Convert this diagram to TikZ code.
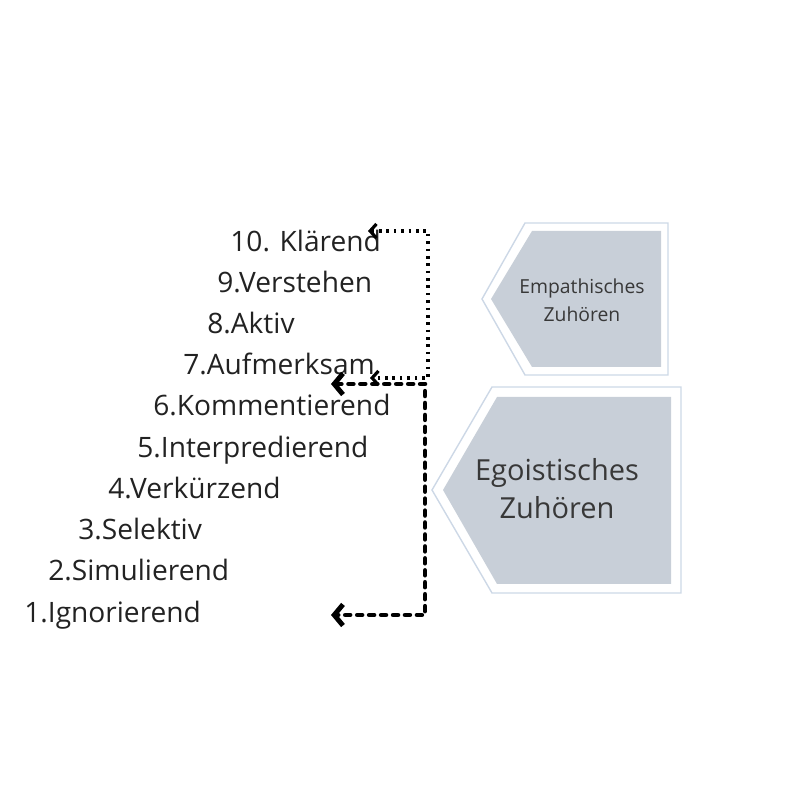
\documentclass[tikz,border=0pt]{standalone}
\usepackage{fontspec}
\setmainfont{Open Sans}
\usepackage{xcolor}
\usepackage{tikz}
\usetikzlibrary{arrows.meta, calc}

\definecolor{boxfill}{RGB}{200,207,216}
\definecolor{boxline}{RGB}{205,216,230}
\definecolor{txt}{RGB}{34,34,34}

\begin{document}
\begin{tikzpicture}[x=2cm, y=2cm,
    item/.style={anchor=base west, inner sep=0pt, font=\fontsize{16}{19}\selectfont, text=txt},
    boxtext/.style={align=center, inner sep=0pt, text=txt!90},
    thinbr/.style={line width=1.8pt, dash pattern=on 1.5pt off 2.7pt,
        {Straight Barb[length=3.6pt, width=8pt]}-{Straight Barb[length=3.6pt, width=8pt]}},
    thickbr/.style={line width=2.8pt, line cap=round, dash pattern=on 2.6pt off 4.2pt,
        {Straight Barb[length=5pt, width=12pt]}-{Straight Barb[length=5pt, width=12pt]}}]
\useasboundingbox (0,0) rectangle (8,8);

% Draw list of levels
\foreach \n/\x/\y/\t in {10/2.30/5.48/{10. Klärend}, 9/2.17/5.07/{9.Verstehen},
    8/2.07/4.66/{8.Aktiv}, 7/1.83/4.25/{7.Aufmerksam}, 6/1.53/3.84/{6.Kommentierend},
    5/1.37/3.42/{5.Interpredierend}, 4/1.08/3.01/{4.Verkürzend}, 3/0.78/2.60/{3.Selektiv},
    2/0.48/2.19/{2.Simulierend}, 1/0.24/1.77/{1.Ignorierend}} {
    \node[item] (lvl\n) at (\x,\y) {\t};
}

% Draw the two boxes
\draw[boxline, line width=0.8pt] (5.25,5.77) -- (6.68,5.77) -- (6.68,4.25) -- (5.25,4.25) -- (4.82,5.01) -- cycle;
\fill[boxfill] (5.32,5.69) -- (6.61,5.69) -- (6.61,4.33) -- (5.32,4.33) -- (4.91,5.01) -- cycle;
\draw[boxline, line width=0.8pt] (4.92,4.13) -- (6.81,4.13) -- (6.81,2.07) -- (4.92,2.07) -- (4.32,3.10) -- cycle;
\fill[boxfill] (4.97,4.03) -- (6.71,4.03) -- (6.71,2.16) -- (4.97,2.16) -- (4.43,3.10) -- cycle;
\node[boxtext, font=\fontsize{11}{16}\selectfont] (empath) at (5.82,5.00) {Empathisches\\Zuhören};
\node[boxtext, font=\fontsize{16.5}{21.6}\selectfont] (egoist) at (5.57,3.11) {Egoistisches\\Zuhören};

% Brackets
\coordinate (etop) at (3.68,5.69);
\coordinate (etopc) at (4.28,5.69);
\coordinate (ebotc) at (4.28,4.22);
\coordinate (ebot) at (3.70,4.22);
\draw[thinbr] (etop) -- (etopc) -- (ebotc) -- (ebot);
\coordinate (gtop) at (3.31,4.16);
\coordinate (gtopc) at (4.25,4.16);
\coordinate (gbotc) at (4.25,1.85);
\coordinate (gbot) at (3.31,1.85);
\draw[thickbr] (gtop) -- (gtopc) -- (gbotc) -- (gbot);
\end{tikzpicture}
\end{document}
